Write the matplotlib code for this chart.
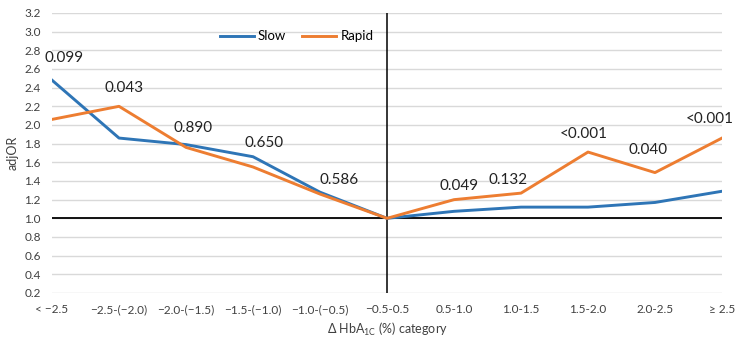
import matplotlib
matplotlib.use('Agg')
import matplotlib.pyplot as plt

plt.rcParams['font.family'] = ['Lato', 'DejaVu Sans']
plt.rcParams['mathtext.default'] = 'regular'

categories = ["< \u22122.5", "\u22122.5-(\u22122.0)", "\u22122.0-(\u22121.5)", "\u22121.5-(\u22121.0)",
              "\u22121.0-(\u22120.5)", "\u22120.5-0.5", "0.5-1.0", "1.0-1.5", "1.5-2.0",
              "2.0-2.5", "\u2265 2.5"]
slow = [2.48, 1.86, 1.79, 1.66, 1.28, 1.00, 1.075, 1.12, 1.12, 1.17, 1.29]
rapid = [2.06, 2.20, 1.76, 1.55, 1.26, 1.00, 1.20, 1.27, 1.71, 1.49, 1.86]

# p-value labels: text, label x, label y
p_text = ["0.099", "0.043", "0.890", "0.650", "0.586", "0.049", "0.132", "<0.001", "0.040", "<0.001"]
p_x = [0.18, 1.07, 2.11, 3.17, 4.28, 6.07, 6.81, 7.93, 8.90, 9.82]
p_y = [2.72, 2.40, 1.97, 1.81, 1.41, 1.35, 1.41, 1.90, 1.73, 2.06]
yticks = [0.2 + 0.2 * i for i in range(16)]

fig = plt.figure(figsize=(7.39, 3.42), dpi=100)
ax = fig.add_axes([0.0704, 0.1433, 0.9066, 0.8187])

x = list(range(len(categories)))
for yv in yticks:
    ax.axhline(yv, color="#D9D9D9", linewidth=1.0, zorder=0)
ax.axhline(1.0, color="black", linewidth=1.3, zorder=1)
ax.axvline(5, color="black", linewidth=1.1, zorder=1)

ax.plot(x, slow, color="#2E75B6", linewidth=2.1, label="Slow", zorder=3)
ax.plot(x, rapid, color="#ED7D31", linewidth=2.1, label="Rapid", zorder=3)

for t, px, py in zip(p_text, p_x, p_y):
    ax.text(px, py, t, ha="center", va="center", fontsize=11, color="#222222")

ax.set_xlim(0, 10)
ax.set_ylim(0.2, 3.2)
ax.set_yticks(yticks)
ax.set_yticklabels([f"{v:.1f}" for v in yticks])
ax.set_xticks(x)
ax.set_xticklabels(categories)
ax.tick_params(axis="both", length=0, labelsize=8.5, colors="#404040")
ax.tick_params(axis="x", pad=8)
ax.tick_params(axis="y", pad=8)
for s in ax.spines.values():
    s.set_visible(False)

ax.set_ylabel("adjOR", fontsize=9, color="#404040", labelpad=4)
ax.set_xlabel("\u0394 HbA$_{1C}$ (%) category", fontsize=9, color="#404040", labelpad=4)

ax.legend(loc="upper center", bbox_to_anchor=(0.365, 0.98), ncol=2, frameon=False,
          fontsize=9.5, handlelength=2.6, columnspacing=1.2, handletextpad=0.3)

fig.savefig("out.png", dpi=100)
